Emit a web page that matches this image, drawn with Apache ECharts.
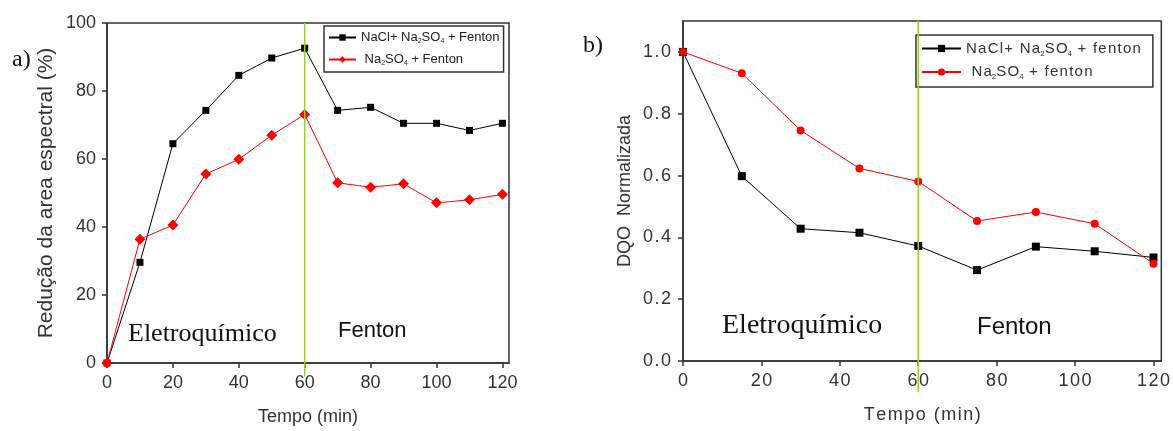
<!DOCTYPE html>
<html>
<head>
<meta charset="utf-8">
<script src="https://cdn.jsdelivr.net/npm/echarts@6/dist/echarts.min.js"></script>
<style>html,body{margin:0;padding:0;background:#fff;}#c{width:1173px;height:431px;}</style>
</head>
<body>
<div id="c"></div>
<script>
// ---- data ----
const timeA = [0, 10, 20, 30, 40, 50, 60, 70, 80, 90, 100, 110, 120];
const reducaoNaClNa2SO4 = [0, 29.6, 64.5, 74.3, 84.6, 89.7, 92.6, 74.3, 75.2, 70.5, 70.5, 68.4, 70.5];
const reducaoNa2SO4 = [0, 36.4, 40.6, 55.6, 59.9, 67.0, 73.1, 53.0, 51.7, 52.7, 47.1, 48.0, 49.6];
const timeB = [0, 15, 30, 45, 60, 75, 90, 105, 120];
const dqoNaClNa2SO4 = [1.0, 0.598, 0.428, 0.415, 0.372, 0.294, 0.370, 0.355, 0.335];
const dqoNa2SO4 = [1.0, 0.931, 0.746, 0.623, 0.581, 0.453, 0.482, 0.444, 0.315];
const xTicks = [0, 20, 40, 60, 80, 100, 120];
const yTicksA = [0, 20, 40, 60, 80, 100];
const yTicksB = [0, 0.2, 0.4, 0.6, 0.8, 1.0];
const phaseSwitch = 60;
const dividerA = [-4, 100];   // vertical extent of the phase divider (panel a)
const dividerB = [-0.1, 1.1]; // vertical extent of the phase divider (panel b)

const pairs = (xs, ys) => xs.map((x, i) => [x, ys[i]]);
const sp = s => s.split('').join('\u200A');
const axisColor = '#333';
const labelColor = '#333';

const legendNames = {
  a1: '{n|NaCl+ Na}{s|2}{n|SO}{s|4}{n| + Fenton}',
  a2: '{n| Na}{s|2}{n|SO}{s|4}{n| + Fenton}',
  b1: '{n|' + sp('NaCl+ Na') + '}{s|2}{n|' + sp('SO') + '}{s|4}{n|' + sp(' + fenton') + '}',
  b2: '{n|' + sp(' Na') + '}{s|2}{n|' + sp('SO') + '}{s|4}{n|' + sp(' + fenton') + '}'
};

function xAxisCfg(gi, spaced) {
  return {
    type: 'value', gridIndex: gi, min: 0, max: 122, interval: 20,
    name: spaced ? sp('Tempo (min)') : 'Tempo (min)', nameLocation: 'middle', nameGap: 45,
    nameTextStyle: {fontSize: 18, color: labelColor, fontFamily: 'Liberation Sans'},
    axisLine: {lineStyle: {color: axisColor, width: 1.5}},
    axisTick: {length: 5, lineStyle: {color: axisColor, width: 1.5}, customValues: xTicks},
    axisLabel: {fontSize: 18, color: labelColor, margin: 11, fontFamily: 'Liberation Sans',
      customValues: xTicks,
      formatter: v => spaced ? sp(String(v)) : String(v)},
    splitLine: {show: false}
  };
}

function divider(xi, ext) {
  return {name: 'div' + xi, type: 'line', xAxisIndex: xi, yAxisIndex: xi, clip: false, silent: true, z: 5,
    data: [[phaseSwitch, ext[0]], [phaseSwitch, ext[1]]], symbol: 'none',
    lineStyle: {color: '#9ACD32', width: 1.5}};
}

const option = {
  animation: false,
  backgroundColor: '#fff',
  grid: [
    {left: 107, top: 23, width: 402, height: 340, show: true, borderColor: axisColor, borderWidth: 1.5, backgroundColor: 'transparent'},
    {left: 683, top: 21, width: 481, height: 340, show: true, borderColor: axisColor, borderWidth: 1.5, backgroundColor: 'transparent'}
  ],
  xAxis: [xAxisCfg(0, false), xAxisCfg(1, true)],
  yAxis: [
    {type: 'value', gridIndex: 0, min: 0, max: 100, interval: 20,
      name: 'Redução da area espectral (%)', nameLocation: 'middle', nameGap: 50,
      nameTextStyle: {fontSize: 21, color: labelColor, fontFamily: 'Liberation Sans'},
      axisLine: {lineStyle: {color: axisColor, width: 1.5}},
      axisTick: {length: 5, lineStyle: {color: axisColor, width: 1.5}, customValues: yTicksA},
      axisLabel: {fontSize: 18, color: labelColor, margin: 11, fontFamily: 'Liberation Sans', customValues: yTicksA},
      splitLine: {show: false}},
    {type: 'value', gridIndex: 1, min: 0, max: 1.1, interval: 0.1,
      name: 'DQO  Normalizada', nameLocation: 'middle', nameGap: 49,
      nameTextStyle: {fontSize: 18, color: labelColor, fontFamily: 'Liberation Sans'},
      axisLine: {lineStyle: {color: axisColor, width: 1.5}},
      axisTick: {length: 5, lineStyle: {color: axisColor, width: 1.5}, customValues: yTicksB},
      axisLabel: {fontSize: 18, color: labelColor, margin: 12, fontFamily: 'Liberation Sans', customValues: yTicksB,
        formatter: v => sp(v.toFixed(1))},
      splitLine: {show: false}}
  ],
  legend: [
    {data: ['a1', 'a2'], orient: 'vertical', left: 324, top: 26, itemWidth: 27, itemHeight: 8, itemGap: 8,
      padding: [5, 4, 5, 4], borderColor: axisColor, borderWidth: 1.5, backgroundColor: '#fff',
      formatter: n => legendNames[n],
      textStyle: {color: labelColor, rich: {
        n: {fontSize: 13, fontFamily: 'Liberation Sans', color: '#222'},
        s: {fontSize: 7, fontFamily: 'Liberation Sans', color: '#222', padding: [8, 0, 0, 0]}}}},
    {data: ['b1', 'b2'], orient: 'vertical', left: 916, top: 35, itemWidth: 39, itemHeight: 9, itemGap: 7,
      padding: [6, 12, 6, 5], borderColor: axisColor, borderWidth: 1.5, backgroundColor: '#fff',
      formatter: n => legendNames[n],
      textStyle: {color: labelColor, rich: {
        n: {fontSize: 15, fontFamily: 'Liberation Sans', color: '#333'},
        s: {fontSize: 8, fontFamily: 'Liberation Sans', color: '#333', padding: [10, 0, 0, 0]}}}}
  ],
  series: [
    divider(0, dividerA),
    divider(1, dividerB),
    {name: 'a1', type: 'line', xAxisIndex: 0, yAxisIndex: 0, data: pairs(timeA, reducaoNaClNa2SO4),
      symbol: 'rect', symbolSize: 7, color: '#000', lineStyle: {width: 1, color: '#000'}, itemStyle: {color: '#000'}},
    {name: 'a2', type: 'line', xAxisIndex: 0, yAxisIndex: 0, data: pairs(timeA, reducaoNa2SO4),
      symbol: 'diamond', symbolSize: 11, color: '#f00', lineStyle: {width: 1, color: '#f00'}, itemStyle: {color: '#f00'}},
    {name: 'b1', type: 'line', xAxisIndex: 1, yAxisIndex: 1, data: pairs(timeB, dqoNaClNa2SO4),
      symbol: 'rect', symbolSize: 8, color: '#000', lineStyle: {width: 1, color: '#000'}, itemStyle: {color: '#000'}},
    {name: 'b2', type: 'line', xAxisIndex: 1, yAxisIndex: 1, data: pairs(timeB, dqoNa2SO4),
      symbol: 'circle', symbolSize: 8, color: '#f00', lineStyle: {width: 1, color: '#f00'}, itemStyle: {color: '#f00'}}
  ],
  graphic: [
    {type: 'text', left: 12, top: 48, style: {text: 'a)', font: '24px "Liberation Serif"', fill: '#111'}},
    {type: 'text', left: 583, top: 34, style: {text: 'b)', font: '24px "Liberation Serif"', fill: '#111'}},
    {type: 'text', left: 128, top: 321, style: {text: 'Eletroquímico', font: '26px "Liberation Serif"', fill: '#111'}},
    {type: 'text', left: 338, top: 320, style: {text: 'Fenton', font: '22px "Liberation Sans"', fill: '#111'}},
    {type: 'text', left: 722, top: 312, style: {text: 'Eletroquímico', font: '28px "Liberation Serif"', fill: '#111'}},
    {type: 'text', left: 977, top: 315, style: {text: 'Fenton', font: '24px "Liberation Sans"', fill: '#111'}}
  ]
};

const chart = echarts.init(document.getElementById('c'), null, {renderer: 'canvas'});
chart.setOption(option);
</script>
</body>
</html>
